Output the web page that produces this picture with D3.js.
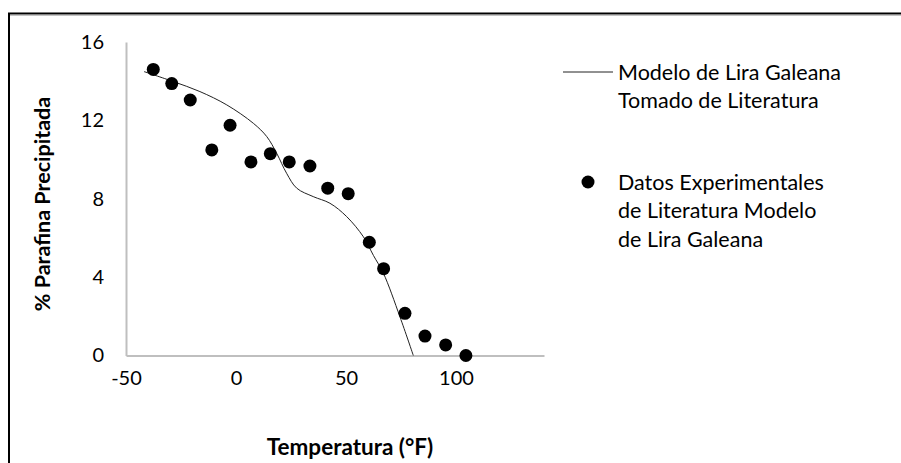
<!DOCTYPE html>
<html><head><meta charset="utf-8">
<script src="https://cdn.jsdelivr.net/npm/d3@7"></script>
<style>body{margin:0;background:#fff}svg{display:block}</style>
</head><body>
<script>
const expX = [-37.6,-29.2,-20.8,-11.0,-2.7,6.8,15.6,24.2,33.6,41.7,51.0,60.6,67.1,76.8,85.9,95.3,104.5];
const expY = [14.6,13.88,13.04,10.49,11.75,9.88,10.3,9.88,9.67,8.54,8.26,5.78,4.43,2.15,0.99,0.54,0.0];
const modelX = [-41.8,-28.5,-16.4,-4.2,7.9,14.0,18.5,23.0,27.6,35.1,42.7,50.3,57.9,62.5,67.0,74.5,80.6];
const modelY = [14.49,13.98,13.47,12.79,11.85,11.17,10.32,9.3,8.54,8.11,7.77,7.09,6.06,5.1,4.2,1.98,0.0];
const xTicks = [-50,0,50,100];
const yTicks = [0,4,8,12,16];
const legendLabels = [["Modelo de Lira Galeana","Tomado de Literatura"],["Datos Experimentales","de Literatura Modelo","de Lira Galeana"]];
const xTitle = "Temperatura (°F)";
const yTitle = "% Parafina Precipitada";

const W=901,H=463;
const svg=d3.select("body").append("svg").attr("width",W).attr("height",H).style("font-family","Lato, 'Open Sans', sans-serif");
svg.append("rect").attr("width",W).attr("height",H).attr("fill","#fff");
// outer border (top & left visible)
svg.append("path").attr("d",`M9,${H} L9,13.5 L${W},13.5`).attr("fill","none").attr("stroke","#000").attr("stroke-width",2);
svg.append("line").attr("x1",10).attr("x2",W).attr("y1",15).attr("y2",15).attr("stroke","#888").attr("stroke-width",1);

const x=d3.scaleLinear().domain([-50,140]).range([126,544]);
const y=d3.scaleLinear().domain([0,16]).range([355.5,42]);

// axes
const xAxis=svg.append("g").attr("transform",`translate(0,${y(0)})`).call(d3.axisBottom(x).tickValues(xTicks).tickSize(0).tickPadding(15).tickFormat(d=>String(d)));
const yAxis=svg.append("g").attr("transform",`translate(${x(-50)},0)`).call(d3.axisLeft(y).tickValues(yTicks).tickSize(0).tickPadding(22).tickFormat(d=>String(d)));
[xAxis,yAxis].forEach(a=>{
  a.select(".domain").attr("stroke","#bfbfbf").attr("stroke-width",2);
  a.selectAll("text").attr("font-size",20).attr("fill","#000").attr("font-family","Lato, sans-serif");
});

// model line
const line=d3.line().x(d=>x(d[0])).y(d=>y(d[1])).curve(d3.curveCatmullRom);
svg.append("path").datum(modelX.map((v,i)=>[v,modelY[i]])).attr("d",line).attr("fill","none").attr("stroke","#222").attr("stroke-width",1);

// points
svg.append("g").selectAll("circle").data(expX.map((v,i)=>[v,expY[i]])).join("circle")
  .attr("cx",d=>x(d[0])).attr("cy",d=>y(d[1])).attr("r",6.5).attr("fill","#000");

// titles
svg.append("text").attr("x",350).attr("y",455).attr("text-anchor","middle").attr("font-size",22.5).attr("font-weight","bold").text(xTitle);
svg.append("text").attr("transform","translate(50,204) rotate(-90)").attr("text-anchor","middle").attr("font-size",21.5).attr("font-weight","bold").text(yTitle);

// legend
const lg=svg.append("g");
lg.append("line").attr("x1",563).attr("x2",613).attr("y1",72).attr("y2",72).attr("stroke","#222").attr("stroke-width",1);
lg.append("circle").attr("cx",588).attr("cy",182).attr("r",6.5).attr("fill","#000");
const lt=[72,182];
legendLabels.forEach((lines,k)=>{
  lines.forEach((s,j)=>{
    lg.append("text").attr("x",618).attr("y",lt[k]+j*28.5).attr("dy","0.35em").attr("font-size",21.5).attr("fill","#000").text(s);
  });
});
</script>
</body></html>
